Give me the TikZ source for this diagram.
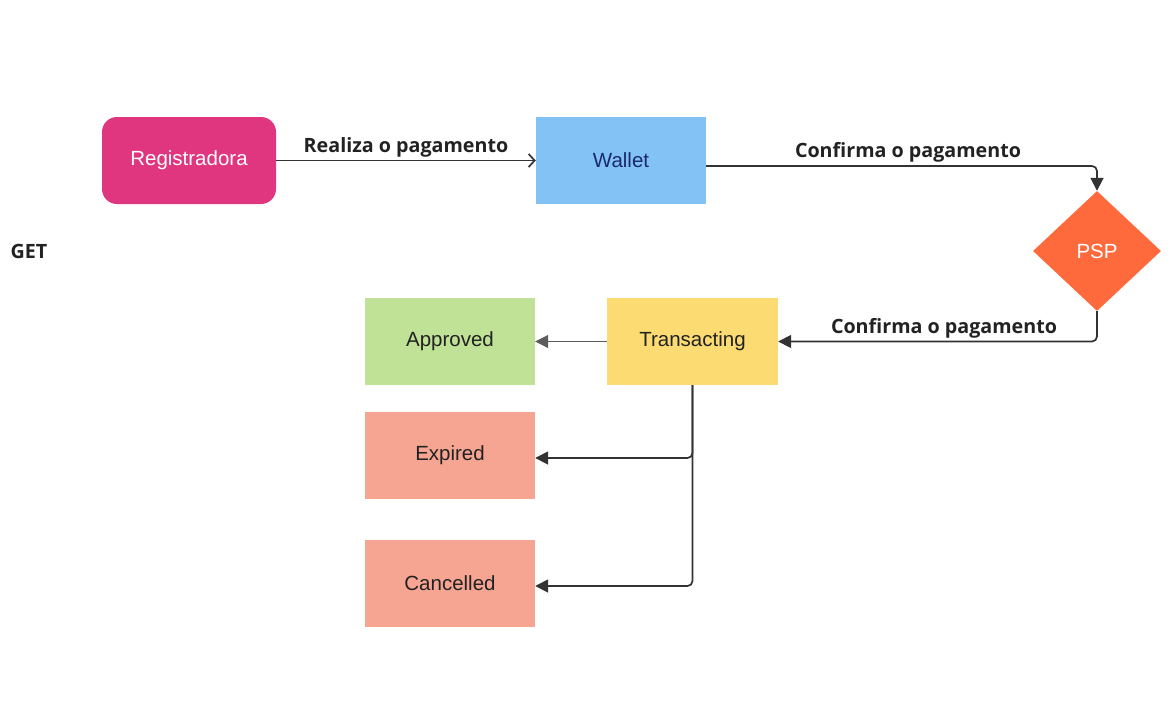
\documentclass[tikz,border=0pt]{standalone}
\usepackage{fontspec}
\setmainfont{Liberation Sans}
\newfontfamily\lblfont{Open Sans}
\usetikzlibrary{shapes.geometric,arrows.meta}
\definecolor{regc}{HTML}{E0357F}
\definecolor{walc}{HTML}{82C2F5}
\definecolor{pspc}{HTML}{FF6A3D}
\definecolor{trac}{HTML}{FCDC72}
\definecolor{appc}{HTML}{BFE297}
\definecolor{redc}{HTML}{F6A593}
\definecolor{linec}{HTML}{333333}
\definecolor{txtc}{HTML}{222222}
\definecolor{navy}{HTML}{1A2A6C}
\tikzset{
  box/.style={rectangle, minimum width=170pt, minimum height=87pt, inner sep=0pt, font=\fontsize{20.5}{22}\selectfont, text=txtc},
  conn/.style={draw=linec, line width=1.7pt, rounded corners=5pt, -{Triangle[length=13pt,width=13pt]}},
  lbl/.style={font=\lblfont\bfseries\fontsize{19.7}{22}\selectfont, text=txtc, inner sep=0pt}
}
\begin{document}
\begin{tikzpicture}[x=1pt,y=-1pt]
\useasboundingbox (0,0) rectangle (1175,716);
\fill[white] (0,0) rectangle (1175,716);
\node[box, minimum width=174pt, fill=regc, rounded corners=15pt, text=white] (reg) at (189,160.5) {Registradora};
\node[box, fill=walc, text=navy] (wal) at (621,160.5) {Wallet};
\node[diamond, fill=pspc, minimum width=128pt, minimum height=120pt, inner sep=0pt, aspect=1.07] (psp) at (1097,251) {};
\node[text=white, font=\fontsize{20.5}{22}\selectfont] (psplbl) at (1097,251) {PSP};
\node[box, minimum width=171pt, fill=trac] (tra) at (692.5,341.5) {Transacting};
\node[box, fill=appc] (app) at (450,341.5) {Approved};
\node[box, fill=redc] (exp) at (450,455.5) {Expired};
\node[box, fill=redc] (can) at (450,583.5) {Cancelled};
\node[lbl] (get) at (29,251) {GET};

\draw[draw=linec, line width=1.7pt, -{Straight Barb[length=6pt,width=13pt]}] (reg.east) -- (wal.west);
\node[lbl] (l1) at (406,147) {Realiza o pagamento};

\coordinate (c1) at (1097,166);
\draw[conn] (wal.east |- c1) -- (c1) -- (psp.north);
\node[lbl] (l2) at (908,152) {Confirma o pagamento};

\coordinate (c2) at (1097,341.5);
\draw[conn] (psp.south) -- (c2) -- (tra.east);
\node[lbl] (l3) at (944,328) {Confirma o pagamento};

\draw[draw=linec!80, line width=1pt, -{Triangle[length=13pt,width=13pt]}] (tra.west) -- (app.east);

\coordinate (c3) at (692.5,458);
\coordinate (c4) at (692.5,586);
\draw[conn] (tra.south) -- (c3) -- (exp.east |- c3);
\draw[conn] (tra.south) -- (c4) -- (can.east |- c4);
\end{tikzpicture}
\end{document}
